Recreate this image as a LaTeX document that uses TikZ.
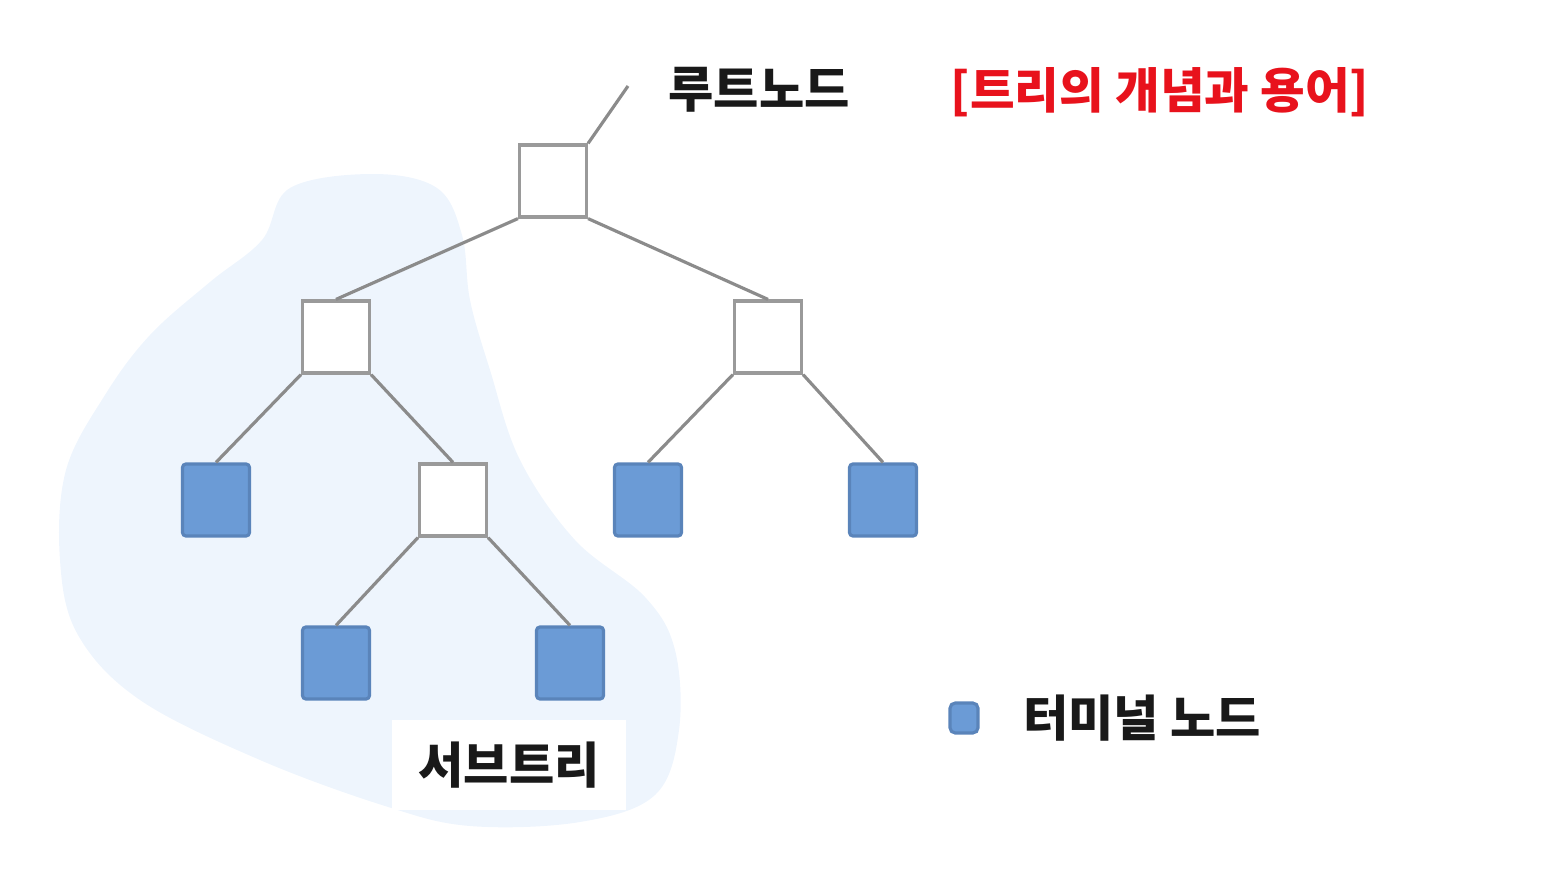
\documentclass[tikz,border=0pt]{standalone}
\usepackage{fontspec}
\usepackage{xcolor}
\usepackage{tikz}
\usetikzlibrary{positioning,calc}
\newfontfamily\kofont{Noto Sans CJK KR}
\definecolor{leafblue}{HTML}{6B9BD6}
\definecolor{leafedge}{HTML}{5A84BA}
\definecolor{boxgray}{HTML}{9A9A9A}
\definecolor{blobblue}{HTML}{EEF5FD}
\definecolor{titlered}{HTML}{E8121C}

\begin{document}
\begin{tikzpicture}[x=0.01cm, y=-0.01cm,
    inbox/.style={rectangle, draw=boxgray, fill=white, line width=0.9pt, minimum width=0.67cm, minimum height=0.72cm, inner sep=0pt},
    leaf/.style={rectangle, draw=leafedge, fill=leafblue, line width=0.9pt, rounded corners=1pt, minimum width=0.67cm, minimum height=0.72cm, inner sep=0pt},
    label/.style={font=\kofont\bfseries\fontsize{14}{16}\selectfont, text=black!90, inner sep=2pt},
    edge/.style={draw=boxgray!90!black, line width=0.9pt}]

    \useasboundingbox (0,0) rectangle (1548,882);

    % subtree area
    \fill[blobblue] plot[smooth cycle, tension=0.6] coordinates {
        (290,188) (373,174) (437,188) (462,235) (470,300)
        (490,370) (520,460) (575,540) (645,597) (675,650)
        (679,730) (655,795) (580,822) (470,826) (385,806)
        (260,760) (140,700) (78,635) (60,560) (66,470)
        (105,395) (150,335) (210,282) (262,240)};

    % tree
    \node[inbox] (root) at (553,181) {};
    \node[inbox] (n1) at (336,337) {};
    \node[inbox] (n2) at (768,337) {};
    \node[leaf] (t1) at (216,500) {};
    \node[inbox] (n3) at (453,500) {};
    \node[leaf] (t2) at (648,500) {};
    \node[leaf] (t3) at (883,500) {};
    \node[leaf] (t4) at (336,663) {};
    \node[leaf] (t5) at (570,663) {};

    \draw[edge] (root.south west) -- (n1.north);
    \draw[edge] (root.south east) -- (n2.north);
    \draw[edge] (n1.south west) -- (t1.north);
    \draw[edge] (n1.south east) -- (n3.north);
    \draw[edge] (n2.south west) -- (t2.north);
    \draw[edge] (n2.south east) -- (t3.north);
    \draw[edge] (n3.south west) -- (t4.north);
    \draw[edge] (n3.south east) -- (t5.north);

    % labels
    \coordinate (rtip) at (628,86);
    \draw[edge] (root.north east) -- (rtip);
    \node[label] (rootlbl) at (759,90) {루트노드};
    \node[label, text=titlered, font=\kofont\bfseries\fontsize{13.8}{16}\selectfont] (title) at (1160,92) {[트리의 개념과 용어]};
    \node[label, fill=white, minimum width=2.33cm, minimum height=0.9cm] (sublbl) at (509,765) {서브트리};

    % legend
    \node[leaf, minimum width=0.28cm, minimum height=0.3cm, rounded corners=1.5pt] (lgbox) at (964,718) {};
    \node[label, right=0.36cm of lgbox] (lgtext) {터미널 노드};

\end{tikzpicture}
\end{document}
